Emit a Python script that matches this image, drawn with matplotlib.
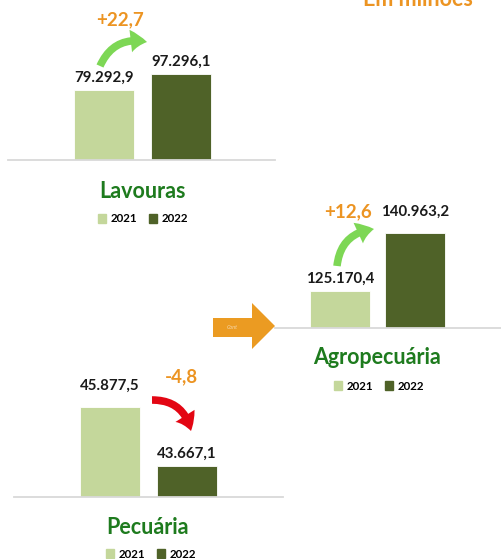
import matplotlib.pyplot as plt
from matplotlib.patches import FancyArrowPatch, Polygon
from matplotlib.patches import Patch

plt.rcParams['font.family'] = ['Lato', 'DejaVu Sans']

W, H = 501, 559

years = ['2021', '2022']
lavouras = [79292.9, 97296.1]
agropecuaria = [125170.4, 140963.2]
pecuaria = [45877.5, 43667.1]
labels_lav = ['79.292,9', '97.296,1']
labels_agro = ['125.170,4', '140.963,2']
labels_pec = ['45.877,5', '43.667,1']
var_lav = '+22,7'
var_agro = '+12,6'
var_pec = '-4,8'

light = '#c4d79b'
dark = '#4f6228'
title_green = '#1e7b1e'
orange = '#ec9422'
grid_grey = '#d9d9d9'

fig = plt.figure(figsize=(W / 100, H / 100), dpi=100)


def panel(x0, x1, base, c0, step, ymin, ymax, scale):
    # axes placed in pixel units; bars 0 and 1 land at c0 and c0+step
    h = (ymax - ymin) * scale
    ax = fig.add_axes([x0 / W, 1 - base / H, (x1 - x0) / W, h / H])
    ax.set_xlim((x0 - c0) / step, (x1 - c0) / step)
    ax.set_ylim(ymin, ymax)
    ax.set_xticks([]), ax.set_yticks([])
    for s in ['left', 'right', 'top']:
        ax.spines[s].set_visible(False)
    ax.spines['bottom'].set_color(grid_grey)
    ax.spines['bottom'].set_linewidth(1.3)
    ax.patch.set_alpha(0)
    return ax, 60 / step


def draw(ax, width, values, labels, pads):
    bars = ax.bar([0, 1], values, width=width, color=[light, dark],
                  edgecolor='white', linewidth=0.6)
    for i, b in enumerate(bars):
        ax.annotate(labels[i], (b.get_x() + b.get_width() / 2, values[i]),
                    xytext=(0, pads[i]), textcoords='offset points',
                    ha='center', va='bottom', fontsize=10.8,
                    fontweight='bold', color='#1a1a1a')
    return bars


def legend(ax, cx, cy):
    handles = [Patch(color=light), Patch(color=dark)]
    ax.legend(handles, years, loc='center', ncol=2, frameon=False,
              bbox_to_anchor=(cx / W, 1 - cy / H),
              bbox_transform=fig.transFigure,
              prop={'weight': 'bold', 'size': 8.3},
              handlelength=0.7, handleheight=0.7, handletextpad=0.4,
              columnspacing=1.0)


ax1, w1 = panel(8, 275, 160, 104, 77, 0, 100000, 0.000884)
draw(ax1, w1, lavouras, labels_lav, [3.5, 3.5])
legend(ax1, 143, 219)

ax2, w2 = panel(275, 501, 328, 340, 75, 115096, 145000, 0.003673)
draw(ax2, w2, agropecuaria, labels_agro, [3.5, 10.5])
legend(ax2, 379, 386)

ax3, w3 = panel(14, 283, 497, 110, 77, 42506, 46500, 0.02669)
draw(ax3, w3, pecuaria, labels_pec, [10, 3.5])
legend(ax3, 151, 554)

# overlay in pixel coordinates for titles, arrows and notes
ov = fig.add_axes([0, 0, 1, 1])
ov.set_xlim(0, W)
ov.set_ylim(H, 0)
ov.axis('off')
ov.patch.set_alpha(0)

for name, x, y in [('Lavouras', 143, 191), ('Agropecuária', 377, 358),
                   ('Pecuária', 148, 528)]:
    ov.text(x, y, name, ha='center', va='center', fontsize=15.5,
            fontweight='bold', color=title_green)

for txt, x, y in [(var_lav, 120, 20), (var_agro, 348, 212), (var_pec, 181, 377)]:
    ov.text(x, y, txt, ha='center', va='center', fontsize=13.5,
            fontweight='bold', color=orange)

ov.text(418, 6, 'Em milhões', ha='center', va='baseline', fontsize=15.5,
        fontweight='bold', color=orange)

style = 'simple,head_width=1.25,head_length=0.9,tail_width=0.42'
for (a, b, col) in [((100, 66), (147, 42), '#7dd755'),
                    ((337, 266), (374, 229), '#7dd755'),
                    ((152, 400), (191, 431), '#e30613')]:
    ov.add_patch(FancyArrowPatch(a, b, connectionstyle='arc3,rad=-0.4',
                                 arrowstyle=style, mutation_scale=13,
                                 color=col, shrinkA=0, shrinkB=0, lw=0))

# big orange arrow pointing to the total
ov.add_patch(Polygon([(213, 318), (252, 318), (252, 303), (275, 326),
                      (252, 349), (252, 337), (213, 337)],
                     closed=True, color='#eb9b22', lw=0))
ov.text(232, 327.5, 'Cont', ha='center', va='center', fontsize=4,
        style='italic', color='#f6d6a8')

fig.savefig('out.png', dpi=100)
